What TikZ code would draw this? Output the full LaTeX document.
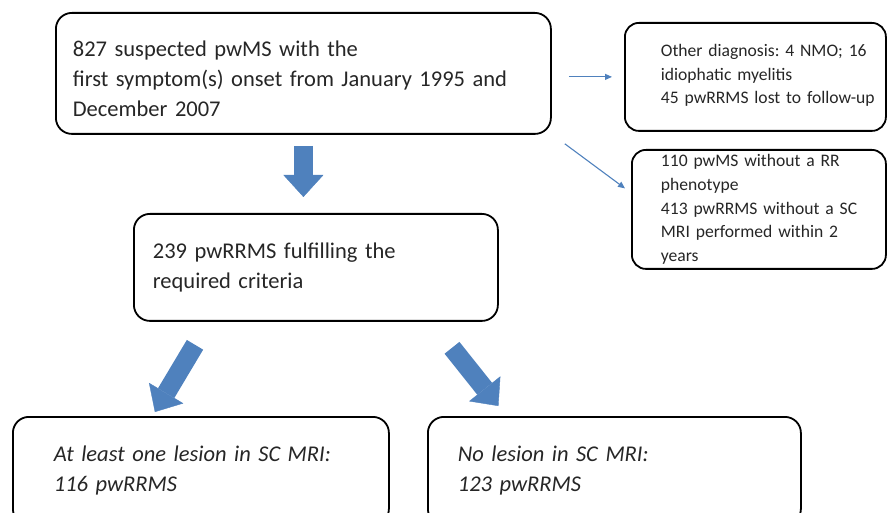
\documentclass[tikz,border=0pt]{standalone}
\usepackage{fontspec}
\setmainfont{Carlito}
\usepackage{tikz}
\usetikzlibrary{arrows.meta,positioning,calc}
\definecolor{flowblue}{RGB}{79,129,189}
\frenchspacing

\begin{document}
\begin{tikzpicture}[x=1pt,y=-1pt,
  box/.style={draw,line width=1.8pt,rounded corners=16pt,anchor=north west,align=left,
              inner xsep=0pt,text=black!85,font=\fontsize{22.5}{30}\selectfont},
  sidebox/.style={box,rounded corners=14pt,font=\fontsize{17.6}{23.7}\selectfont},
  resultbox/.style={box,font=\fontsize{22.5}{30}\selectfont\itshape},
  indent/.style={execute at begin node={\leftskip=#1\relax}},
  blockarrow/.style={flowblue,line width=19pt,-{Triangle[length=22pt,width=40pt,line width=0.4pt]}},
  thinarrow/.style={flowblue,line width=1.1pt,-{Triangle[length=7pt,width=6pt]}}]
\useasboundingbox (0,0) rectangle (887,513);
\clip (0,0) rectangle (887,513);

% boxes
\node[box,indent=17pt,text width=495pt,minimum height=121pt] (onset) at (55,12)
  {\rule{0pt}{26pt}827 suspected pwMS with the\\first symptom(s) onset from January 1995 and\\December 2007};
\node[sidebox,indent=36pt,text width=261pt,minimum height=108pt] (other) at (624,22)
  {Other diagnosis: 4 NMO; 16\\idiophatic myelitis\\45 pwRRMS lost to follow-up\rule[-6pt]{0pt}{0pt}};
\node[sidebox,indent=29pt,text width=254pt,minimum height=119pt] (excluded) at (631,149)
  {110 pwMS without a RR\\phenotype\\413 pwRRMS without a SC\\MRI performed within 2\\years};
\node[box,indent=19pt,text width=364pt,minimum height=107pt] (criteria) at (133,213)
  {239 pwRRMS fulfilling the\\required criteria};
\node[resultbox,indent=41pt,text width=376pt,minimum height=108pt] (lesion) at (12,416)
  {At least one lesion in SC MRI:\\116 pwRRMS};
\node[resultbox,indent=30pt,text width=373pt,minimum height=108pt] (nolesion) at (427,416)
  {No lesion in SC MRI:\\123 pwRRMS};

% arrow ends
\coordinate (lefttail) at ($(criteria.south west)+(62,23)$);
\coordinate (lefthead) at ($(lesion.north)+(-46,-4)$);
\coordinate (righttail) at ($(criteria.south west)+(319,26)$);
\coordinate (righthead) at ($(nolesion.north)+(-116,-10)$);

\draw[blockarrow] ([yshift=-11pt]onset.south) -- ([yshift=16pt]onset.south |- criteria.north);
\draw[blockarrow] (lefttail) -- (lefthead);
\draw[blockarrow] (righttail) -- (righthead);

\draw[thinarrow] ($(onset.east |- other.west)+(17,0)$) -- ($(other.west)+(-12,0)$);
\draw[thinarrow] ($(onset.south east)+(13,9)$) -- ($(excluded.west)+(-6,-21)$);
\end{tikzpicture}
\end{document}
